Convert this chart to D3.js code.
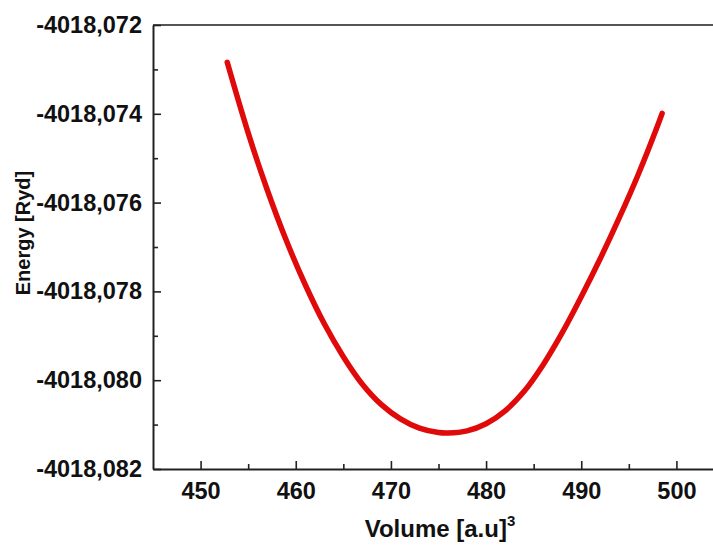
<!DOCTYPE html>
<html>
<head>
<meta charset="utf-8">
<script src="https://cdn.jsdelivr.net/npm/d3@7"></script>
<style>
  body { margin: 0; background: #fff; }
  svg { display: block; font-family: "Liberation Sans", Arial, sans-serif; }
</style>
</head>
<body>
<div id="chart"></div>
<script>
// values
const volumes = [452.8, 455, 457, 459, 461, 463, 465, 467, 469, 471, 473, 475, 476,
                 478, 480, 482, 484, 486, 488, 490, 492, 494, 496, 498, 498.5];
const energies = [-4018.07284, -4018.07443, -4018.07571, -4018.07685, -4018.07785,
                  -4018.07873, -4018.07947, -4018.08009, -4018.08055, -4018.08087,
                  -4018.08108, -4018.08118, -4018.08119, -4018.08114, -4018.08098,
                  -4018.08069, -4018.08025, -4018.07965, -4018.07893, -4018.07812,
                  -4018.07726, -4018.07634, -4018.07536, -4018.07428, -4018.07399];
const xTicks = [450, 460, 470, 480, 490, 500];
const xMinor = [455, 465, 475, 485, 495];
const yTicks = [-4018.082, -4018.080, -4018.078, -4018.076, -4018.074, -4018.072];
const yMinor = [-4018.081, -4018.079, -4018.077, -4018.075, -4018.073];

const W = 713, H = 545;
const plotLeft = 153, plotTop = 25, plotBottom = 469, plotRight = 724;

const data = volumes.map((v, i) => ({volume: v, energy: energies[i]}));

const svg = d3.select('#chart')
  .append('svg')
  .attr('width', W)
  .attr('height', H);

const x = d3.scaleLinear().domain([445, 505]).range([plotLeft, plotRight]);
const y = d3.scaleLinear().domain([-4018.082, -4018.072]).range([plotBottom, plotTop]);

// comma decimal, plain hyphen for the minus
const fmt = d => d3.format('.3f')(d).replace('.', ',').replace('\u2212', '-');
const axisColor = '#222';

// frame: top line
svg.append('line')
  .attr('x1', plotLeft).attr('x2', plotRight)
  .attr('y1', plotTop).attr('y2', plotTop)
  .attr('stroke', '#555').attr('stroke-width', 2);

// x axis, ticks pointing inward
svg.append('g')
  .attr('transform', `translate(0,${plotBottom})`)
  .call(d3.axisBottom(x).tickValues(xTicks).tickSizeInner(-8).tickSizeOuter(0).tickPadding(13));
svg.append('g')
  .attr('transform', `translate(0,${plotBottom})`)
  .call(d3.axisBottom(x).tickValues(xMinor).tickSizeInner(-5).tickSizeOuter(0).tickFormat(''))
  .select('.domain').remove();

// y axis
svg.append('g')
  .attr('transform', `translate(${plotLeft},0)`)
  .call(d3.axisLeft(y).tickValues(yTicks).tickFormat(fmt).tickSizeInner(-8).tickSizeOuter(0).tickPadding(11));
svg.append('g')
  .attr('transform', `translate(${plotLeft},0)`)
  .call(d3.axisLeft(y).tickValues(yMinor).tickSizeInner(-5).tickSizeOuter(0).tickFormat(''))
  .select('.domain').remove();

svg.selectAll('.domain').attr('stroke', axisColor).attr('stroke-width', 2);
svg.selectAll('.tick line').attr('stroke', axisColor).attr('stroke-width', 1.6);
svg.selectAll('.tick text')
  .attr('fill', '#111')
  .style('font-size', '23.5px')
  .style('font-weight', 'bold')
  .style('font-family', '"Liberation Sans", Arial, sans-serif');

// curve
const line = d3.line()
  .x(d => x(d.volume))
  .y(d => y(d.energy))
  .curve(d3.curveCatmullRom.alpha(0.5));

svg.append('path')
  .datum(data)
  .attr('d', line)
  .attr('fill', 'none')
  .attr('stroke', '#e00a0a')
  .attr('stroke-width', 5.5)
  .attr('stroke-linecap', 'round');

// axis titles
const xt = svg.append('text')
  .attr('x', 440)
  .attr('y', 537)
  .attr('text-anchor', 'middle')
  .style('font-size', '24px')
  .style('font-weight', 'bold')
  .attr('fill', '#111');
xt.append('tspan').text('Volume [a.u]');
xt.append('tspan').attr('dy', -11).style('font-size', '15px').text('3');

svg.append('text')
  .attr('transform', 'translate(30,233) rotate(-90)')
  .attr('text-anchor', 'middle')
  .style('font-size', '20px')
  .style('font-weight', 'bold')
  .attr('fill', '#111')
  .text('Energy [Ryd]');
</script>
</body>
</html>
